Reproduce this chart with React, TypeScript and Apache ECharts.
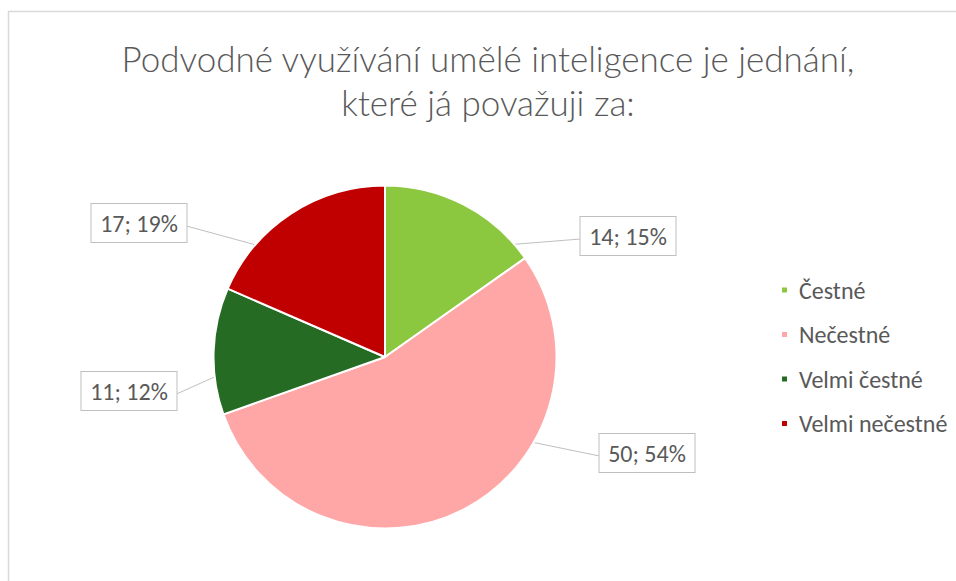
import React, { useEffect, useRef } from "react";
import * as echarts from "echarts";

const titleLines = ["Podvodné využívání umělé inteligence je jednání,", "které já považuji za:"];
const categories = ["Čestné", "Nečestné", "Velmi čestné", "Velmi nečestné"];
const values = [14, 50, 11, 17];
const colors = ["#8CC83F", "#FFA7A7", "#256B24", "#C00000"];

// layout only: label box centres and leader-line anchors (px)
const labelCenters = [[628, 236], [647, 453], [129, 391], [139, 223]];
const leaderStarts = [[418, 252], [463, 428], [230, 370], [300, 257]];
const BOX_W = 95;

const FONT = "Carlito, Calibri, Lato, sans-serif";
const TITLE_FONT = "Lato, Carlito, sans-serif";

export default function App() {
  const ref = useRef<HTMLDivElement>(null);
  useEffect(() => {
    if (!ref.current) return;
    const chart = echarts.init(ref.current, undefined, { renderer: "svg" });
    chart.setOption({
      animation: false,
      backgroundColor: "#ffffff",
      textStyle: { fontFamily: FONT },
      graphic: [
        {
          type: "rect",
          shape: { x: 8.5, y: 11.5, width: 1000, height: 700 },
          style: { fill: "none", stroke: "#d9d9d9", lineWidth: 1.5 },
          silent: true,
        },
      ],
      title: {
        text: titleLines.join("\n"),
        left: 488,
        top: 36,
        textAlign: "center",
        padding: 0,
        textStyle: { fontSize: 35, fontWeight: 300, color: "#595959", lineHeight: 44, fontFamily: TITLE_FONT },
      },
      legend: {
        data: categories,
        orient: "vertical",
        left: 775,
        top: 273,
        itemWidth: 7,
        itemHeight: 7,
        itemGap: 20.5,
        icon: "rect",
        textStyle: { fontSize: 24, color: "#595959", lineHeight: 24, padding: [0, 0, 0, 6], fontFamily: FONT },
      },
      series: [
        {
          type: "pie",
          center: [385, 357],
          radius: 171.5,
          startAngle: 90,
          clockwise: true,
          percentPrecision: 0,
          itemStyle: { borderColor: "#ffffff", borderWidth: 2 },
          data: categories.map((name, i) => ({ name, value: values[i], itemStyle: { color: colors[i] } })),
          label: {
            show: true,
            position: "outside",
            formatter: "{c}; {d}%",
            fontSize: 24,
            color: "#595959",
            fontFamily: FONT,
            backgroundColor: "#ffffff",
            borderColor: "#bfbfbf",
            borderWidth: 1,
            width: BOX_W - 18,
            overflow: "none",
            height: 24,
            lineHeight: 24,
            align: "center",
            padding: [7, 9],
          },
          labelLine: { show: true, lineStyle: { color: "#bfbfbf", width: 1 } },
          labelLayout: (params: any) => {
            const i = params.dataIndex;
            const [cx, cy] = labelCenters[i];
            const [sx, sy] = leaderStarts[i];
            const ex = sx < cx ? cx - BOX_W / 2 : cx + BOX_W / 2;
            return {
              x: cx,
              y: cy,
              align: "center",
              verticalAlign: "middle",
              labelLinePoints: [[sx, sy], [ex, cy + 3], [ex, cy + 3]],
            };
          },
          emphasis: { disabled: true },
        },
      ],
    });
    return () => chart.dispose();
  }, []);
  return <div ref={ref} style={{ position: "fixed", left: 0, top: 0, width: 956, height: 581 }} />;
}
